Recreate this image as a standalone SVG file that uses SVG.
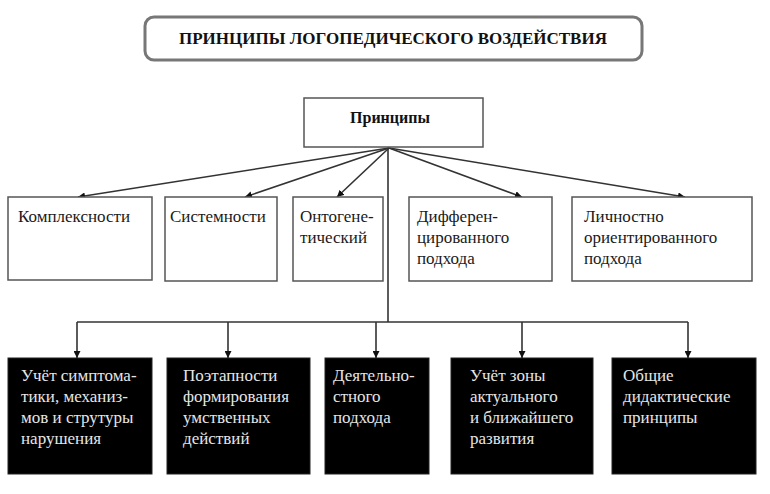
<svg xmlns="http://www.w3.org/2000/svg" width="770" height="494" viewBox="0 0 770 494">
<style>
text{font-family:'Liberation Serif','Times New Roman','DejaVu Serif',Times,serif}
.t{font-size:17px;fill:#1a1a1a}
.w{font-size:17px;fill:#e6e6e6}
.b{font-weight:bold;fill:#111}
.wb{fill:#fff;stroke:#555;stroke-width:1.5}
.bk{fill:#000;stroke:#222;stroke-width:1}
.c{fill:none;stroke:#333;stroke-width:1.6}
</style>
<defs>
<marker id="ah" viewBox="0 0 10 10" refX="10" refY="5" markerWidth="7" markerHeight="7" orient="auto" markerUnits="userSpaceOnUse">
<path d="M0,0 L10,5 L0,10 z" fill="#111"/>
</marker>
</defs>
<rect width="770" height="494" fill="#fff"/>
<g id="title">
<rect x="145" y="17" width="497" height="43" rx="9" fill="#fff" stroke="#777" stroke-width="3"/>
<text class="b" x="393" y="44" font-size="17" text-anchor="middle" font-family="Liberation Serif">ПРИНЦИПЫ ЛОГОПЕДИЧЕСКОГО ВОЗДЕЙСТВИЯ</text>
</g>
<g id="connectors">
<path class="c" d="M389,148 L78,197" marker-end="url(#ah)"/>
<path class="c" d="M389,148 L245,197" marker-end="url(#ah)"/>
<path class="c" d="M389,148 L337,197" marker-end="url(#ah)"/>
<path class="c" d="M389,148 L522,197" marker-end="url(#ah)"/>
<path class="c" d="M389,148 L685,197" marker-end="url(#ah)"/>
<path class="c" d="M388,148 L388,322"/>
<path class="c" d="M77,322 L688,322"/>
<path class="c" d="M77,322 L77,358" marker-end="url(#ah)"/>
<path class="c" d="M228,322 L228,358" marker-end="url(#ah)"/>
<path class="c" d="M376,322 L376,358" marker-end="url(#ah)"/>
<path class="c" d="M522,322 L522,358" marker-end="url(#ah)"/>
<path class="c" d="M688,322 L688,358" marker-end="url(#ah)"/>
</g>
<g id="principles">
<rect class="wb" x="304" y="98" width="179" height="49"/>
<text class="b" x="390" y="123" font-size="16" text-anchor="middle">Принципы</text>
</g>
<g id="n1">
<rect class="wb" x="8" y="197" width="144" height="83"/>
<text class="t" x="18" y="222">Комплексности</text>
</g>
<g id="n2">
<rect class="wb" x="165" y="197" width="112" height="84"/>
<text class="t" x="170" y="222">Системности</text>
</g>
<g id="n3">
<rect class="wb" x="293" y="197" width="90" height="84"/>
<text class="t" x="300" y="222">Онтогене-</text>
<text class="t" x="300" y="243">тический</text>
</g>
<g id="n4">
<rect class="wb" x="409" y="197" width="143" height="84"/>
<text class="t" x="417" y="222">Дифферен-</text>
<text class="t" x="417" y="243">цированного</text>
<text class="t" x="417" y="264">подхода</text>
</g>
<g id="n5">
<rect class="wb" x="572" y="197" width="180" height="84"/>
<text class="t" x="584" y="222">Личностно</text>
<text class="t" x="584" y="243">ориентированного</text>
<text class="t" x="584" y="264">подхода</text>
</g>
<g id="m1">
<rect class="bk" x="8" y="358" width="144" height="116"/>
<text class="w" x="21" y="381">Учёт симптома-</text>
<text class="w" x="21" y="402">тики, механиз-</text>
<text class="w" x="21" y="423">мов и струтуры</text>
<text class="w" x="21" y="444">нарушения</text>
</g>
<g id="m2">
<rect class="bk" x="167" y="358" width="143" height="116"/>
<text class="w" x="183" y="381">Поэтапности</text>
<text class="w" x="183" y="402">формирования</text>
<text class="w" x="183" y="423">умственных</text>
<text class="w" x="183" y="444">действий</text>
</g>
<g id="m3">
<rect class="bk" x="325" y="358" width="104" height="116"/>
<text class="w" x="333" y="381">Деятельно-</text>
<text class="w" x="333" y="402">стного</text>
<text class="w" x="333" y="423">подхода</text>
</g>
<g id="m4">
<rect class="bk" x="451" y="358" width="142" height="116"/>
<text class="w" x="470" y="381">Учёт зоны</text>
<text class="w" x="470" y="402">актуального</text>
<text class="w" x="470" y="423">и ближайшего</text>
<text class="w" x="470" y="444">развития</text>
</g>
<g id="m5">
<rect class="bk" x="612" y="358" width="144" height="116"/>
<text class="w" x="623" y="381">Общие</text>
<text class="w" x="623" y="402">дидактические</text>
<text class="w" x="623" y="423">принципы</text>
</g>
</svg>
